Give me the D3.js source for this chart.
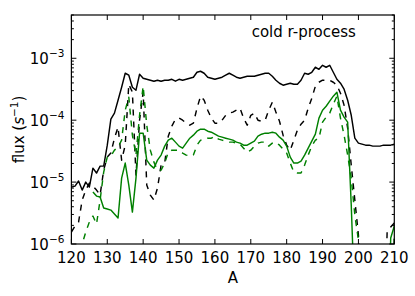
<!DOCTYPE html>
<html>
<head>
<meta charset="utf-8">
<script src="https://cdn.jsdelivr.net/npm/d3@7"></script>
<style>
  html, body { margin: 0; padding: 0; background: #fff; }
  svg { display: block; }
  text { font-family: "DejaVu Sans", sans-serif; fill: #000; }
</style>
</head>
<body>
<div id="chart"></div>
<script>
// ---------------- data ----------------
const massNumbers = d3.range(120, 211); // A = 120 ... 210

const blackSolid = [
  8.30e-6, 8.62e-6, 1.04e-5, 7.43e-6, 1.00e-5, 8.30e-6, 1.68e-5, 1.40e-5, 1.81e-5, 1.81e-5,
  3.95e-5, 1.04e-4, 1.30e-4, 2.10e-4, 3.41e-4, 5.73e-4, 5.32e-4, 3.41e-4, 3.05e-4, 5.52e-4,
  4.76e-4, 4.58e-4, 4.42e-4, 4.26e-4, 4.42e-4, 4.26e-4, 4.42e-4, 4.42e-4, 4.58e-4, 4.26e-4,
  4.58e-4, 4.42e-4, 4.58e-4, 4.76e-4, 4.94e-4, 5.94e-4, 6.17e-4, 5.73e-4, 4.94e-4, 4.76e-4,
  4.58e-4, 4.76e-4, 4.94e-4, 5.32e-4, 5.73e-4, 5.32e-4, 4.94e-4, 4.76e-4, 4.94e-4, 5.12e-4,
  5.12e-4, 5.12e-4, 5.32e-4, 5.52e-4, 5.73e-4, 5.73e-4, 5.12e-4, 4.42e-4, 3.95e-4, 3.67e-4,
  3.81e-4, 3.95e-4, 3.81e-4, 3.81e-4, 4.42e-4, 5.73e-4, 5.52e-4, 5.94e-4, 7.16e-4, 6.64e-4,
  7.71e-4, 7.16e-4, 7.71e-4, 5.94e-4, 4.58e-4, 3.95e-4, 3.16e-4, 2.10e-4, 1.20e-4, 5.12e-5,
  4.26e-5, 4.10e-5, 3.95e-5, 3.95e-5, 3.81e-5, 3.81e-5, 3.81e-5, 3.95e-5, 3.95e-5, 3.95e-5,
  4.10e-5
];

const blackDashed = [
  1.56e-6, 1.95e-6, 2.26e-6, 5.12e-6, 7.43e-6, 9.63e-6, 8.62e-6, 7.43e-6, 6.17e-6, 1.56e-5,
  2.53e-5, 2.94e-5, 5.12e-5, 7.71e-5, 2.26e-5, 3.95e-5, 3.81e-4, 2.83e-4, 1.30e-5, 1.00e-4,
  2.83e-4, 8.94e-6, 6.17e-6, 5.12e-6, 8.00e-6, 1.88e-5, 2.03e-5, 5.52e-5, 8.00e-5, 1.04e-4,
  1.08e-4, 1.00e-4, 8.94e-5, 8.30e-5, 8.94e-5, 1.56e-4, 2.44e-4, 2.10e-4, 1.45e-4, 1.08e-4,
  8.94e-5, 8.94e-5, 1.00e-4, 1.20e-4, 1.30e-4, 1.35e-4, 1.45e-4, 1.56e-4, 1.08e-4, 8.30e-5,
  1.20e-4, 1.30e-4, 1.00e-4, 9.63e-5, 1.00e-4, 1.45e-4, 1.95e-4, 1.35e-4, 9.63e-5, 5.73e-5,
  3.95e-5, 3.28e-5, 4.76e-5, 6.90e-5, 8.62e-5, 1.00e-4, 1.56e-4, 2.26e-4, 3.53e-4, 4.10e-4,
  4.42e-4, 4.42e-4, 4.42e-4, 4.10e-4, 3.67e-4, 2.73e-4, 1.75e-4, 7.43e-5, 1.88e-5, 5.12e-6,
  1.40e-6, 1e-8, 1e-8, 1e-8, 1e-8, 1e-8, 1e-8, 1e-8, 1.56e-6, 1.88e-6,
  2.18e-6
];

const greenSolid = [
  null, null, null, null, null, null, 6.90e-6, 5.94e-6, 5.73e-6, 3.81e-6,
  3.67e-6, 3.53e-6, 3.05e-6, 2.63e-6, 1.16e-5, 2.03e-5, 8.94e-6, 3.28e-6, 1.16e-5, 6.17e-5,
  6.17e-5, 2.26e-5, 1.88e-5, 1.68e-5, 2.26e-5, 2.73e-5, 3.81e-5, 4.76e-5, 5.12e-5, 4.42e-5,
  3.81e-5, 3.53e-5, 4.26e-5, 5.12e-5, 5.73e-5, 6.64e-5, 7.16e-5, 7.16e-5, 6.64e-5, 6.40e-5,
  5.94e-5, 5.52e-5, 5.32e-5, 5.12e-5, 4.94e-5, 4.76e-5, 4.42e-5, 4.26e-5, 3.95e-5, 3.95e-5,
  4.26e-5, 4.58e-5, 5.52e-5, 5.94e-5, 6.17e-5, 6.17e-5, 6.40e-5, 6.17e-5, 5.32e-5, 4.76e-5,
  3.81e-5, 2.53e-5, 2.03e-5, 2.03e-5, 2.18e-5, 2.73e-5, 3.53e-5, 4.58e-5, 5.94e-5, 1.08e-4,
  1.45e-4, 1.68e-4, 2.03e-4, 2.44e-4, 2.83e-4, 1.45e-4, 1.12e-4, 9.28e-5, 4.26e-6, 1e-7,
  1e-8, 1e-8, 1e-8, 1e-8, 1e-8, 1e-8, 1e-8, 1e-8, 1e-8, 1.25e-6,
  1.95e-6
];

const greenDashed = [
  null, null, 5e-7, 1.00e-6, 1.56e-6, 2.26e-6, 2.83e-6, 2.10e-6, 5.12e-6, 1.45e-5,
  2.53e-5, 2.63e-5, 3.28e-5, 3.67e-5, 4.76e-5, 1.45e-4, 2.35e-4, 5.73e-5, 2.73e-5, 1.20e-4,
  3.53e-4, 8.30e-5, 3.28e-5, 2.10e-5, 1.56e-5, 1.56e-5, 2.03e-5, 3.05e-5, 3.28e-5, 3.28e-5,
  3.28e-5, 2.94e-5, 2.73e-5, 2.63e-5, 2.73e-5, 3.95e-5, 4.76e-5, 4.76e-5, 5.12e-5, 5.12e-5,
  5.52e-5, 4.94e-5, 4.76e-5, 4.58e-5, 4.42e-5, 4.42e-5, 4.26e-5, 4.10e-5, 3.53e-5, 3.05e-5,
  3.28e-5, 3.81e-5, 4.26e-5, 4.42e-5, 4.42e-5, 3.81e-5, 4.26e-5, 4.42e-5, 3.95e-5, 3.41e-5,
  2.94e-5, 2.03e-5, 1.45e-5, 1.40e-5, 1.40e-5, 1.88e-5, 2.73e-5, 3.81e-5, 4.76e-5, 5.12e-5,
  9.28e-5, 1.12e-4, 1.30e-4, 1.81e-4, 2.44e-4, 1.08e-4, 5.73e-5, 2.73e-5, 1.16e-5, 2.94e-6,
  1.16e-6, 1e-8, 1e-8, 1e-8, 1e-8, 1e-8, 1e-8, 1e-8, 1e-8, 1e-8,
  1.35e-6
];

const xTickValues = [120, 130, 140, 150, 160, 170, 180, 190, 200, 210];
const yMajorExponents = [-6, -5, -4, -3];
const xDomain = [120, 210];
const yDomain = [1e-6, 5e-3];
const xLabel = "A";
const annotation = "cold r-process";

// ---------------- layout ----------------
const W = 415, H = 296;
const L = 71.4, R = 394.3, T = 15, B = 244;

const svg = d3.select("#chart").append("svg")
  .attr("width", W).attr("height", H);
svg.append("rect").attr("width", W).attr("height", H).attr("fill", "#fff");

const x = d3.scaleLinear().domain(xDomain).range([L, R]);
const y = d3.scaleLog().domain(yDomain).range([B, T]);

svg.append("clipPath").attr("id", "clip")
  .append("rect").attr("x", L).attr("y", T).attr("width", R - L).attr("height", B - T);

const seriesList = [
  { values: blackSolid, color: "#000", dash: null },
  { values: blackDashed, color: "#000", dash: "6,6" },
  { values: greenSolid, color: "#008000", dash: null },
  { values: greenDashed, color: "#008000", dash: "6,6" }
];

const line = d3.line()
  .defined(d => d.v != null)
  .x(d => x(d.a))
  .y(d => y(d.v));

const plot = svg.append("g").attr("clip-path", "url(#clip)");
seriesList.forEach(s => {
  const pts = massNumbers.map((a, i) => ({ a, v: s.values[i] }));
  plot.append("path")
    .attr("d", line(pts))
    .attr("fill", "none")
    .attr("stroke", s.color)
    .attr("stroke-width", 1.45)
    .attr("stroke-linejoin", "round")
    .attr("stroke-dasharray", s.dash);
});

// ---------------- axes ----------------
const ax = svg.append("g").attr("stroke", "#000").attr("stroke-width", 1);
xTickValues.forEach(v => {
  const px = x(v);
  ax.append("line").attr("x1", px).attr("x2", px).attr("y1", B).attr("y2", B - 5);
  ax.append("line").attr("x1", px).attr("x2", px).attr("y1", T).attr("y2", T + 5);
});
const yTicksAll = y.ticks();
yTicksAll.forEach(v => {
  const py = y(v);
  const exp = Math.log10(v);
  const major = Math.abs(exp - Math.round(exp)) < 1e-9;
  const len = major ? 5 : 2.5;
  ax.append("line").attr("x1", L).attr("x2", L + len).attr("y1", py).attr("y2", py);
  ax.append("line").attr("x1", R).attr("x2", R - len).attr("y1", py).attr("y2", py);
});
svg.append("rect").attr("x", L).attr("y", T).attr("width", R - L).attr("height", B - T)
  .attr("fill", "none").attr("stroke", "#000").attr("stroke-width", 1.2);

xTickValues.forEach(v => {
  svg.append("text").attr("x", x(v)).attr("y", B + 18.5)
    .attr("text-anchor", "middle").attr("font-size", "15px").text(v);
});
yMajorExponents.forEach(e => {
  const py = y(Math.pow(10, e));
  const t = svg.append("text").attr("x", L - 7).attr("y", py + 6)
    .attr("text-anchor", "end").attr("font-size", "15px");
  t.append("tspan").text("10");
  t.append("tspan").attr("font-size", "10.5px").attr("dy", -7).text("\u2212" + Math.abs(e));
});

svg.append("text").attr("x", (L + R) / 2).attr("y", 283)
  .attr("text-anchor", "middle").attr("font-size", "15px").text(xLabel);

const yl = svg.append("text")
  .attr("transform", `translate(23.5,${(T + B) / 2}) rotate(-90)`)
  .attr("text-anchor", "middle").attr("font-size", "15px");
yl.append("tspan").text("flux (");
yl.append("tspan").attr("font-style", "italic").text("s");
yl.append("tspan").attr("font-size", "10.5px").attr("dy", -6).text("\u22121");
yl.append("tspan").attr("dy", 6).text(")");

svg.append("text").attr("x", 251.7).attr("y", 36.5)
  .attr("font-size", "15px").text(annotation);
</script>
</body>
</html>
